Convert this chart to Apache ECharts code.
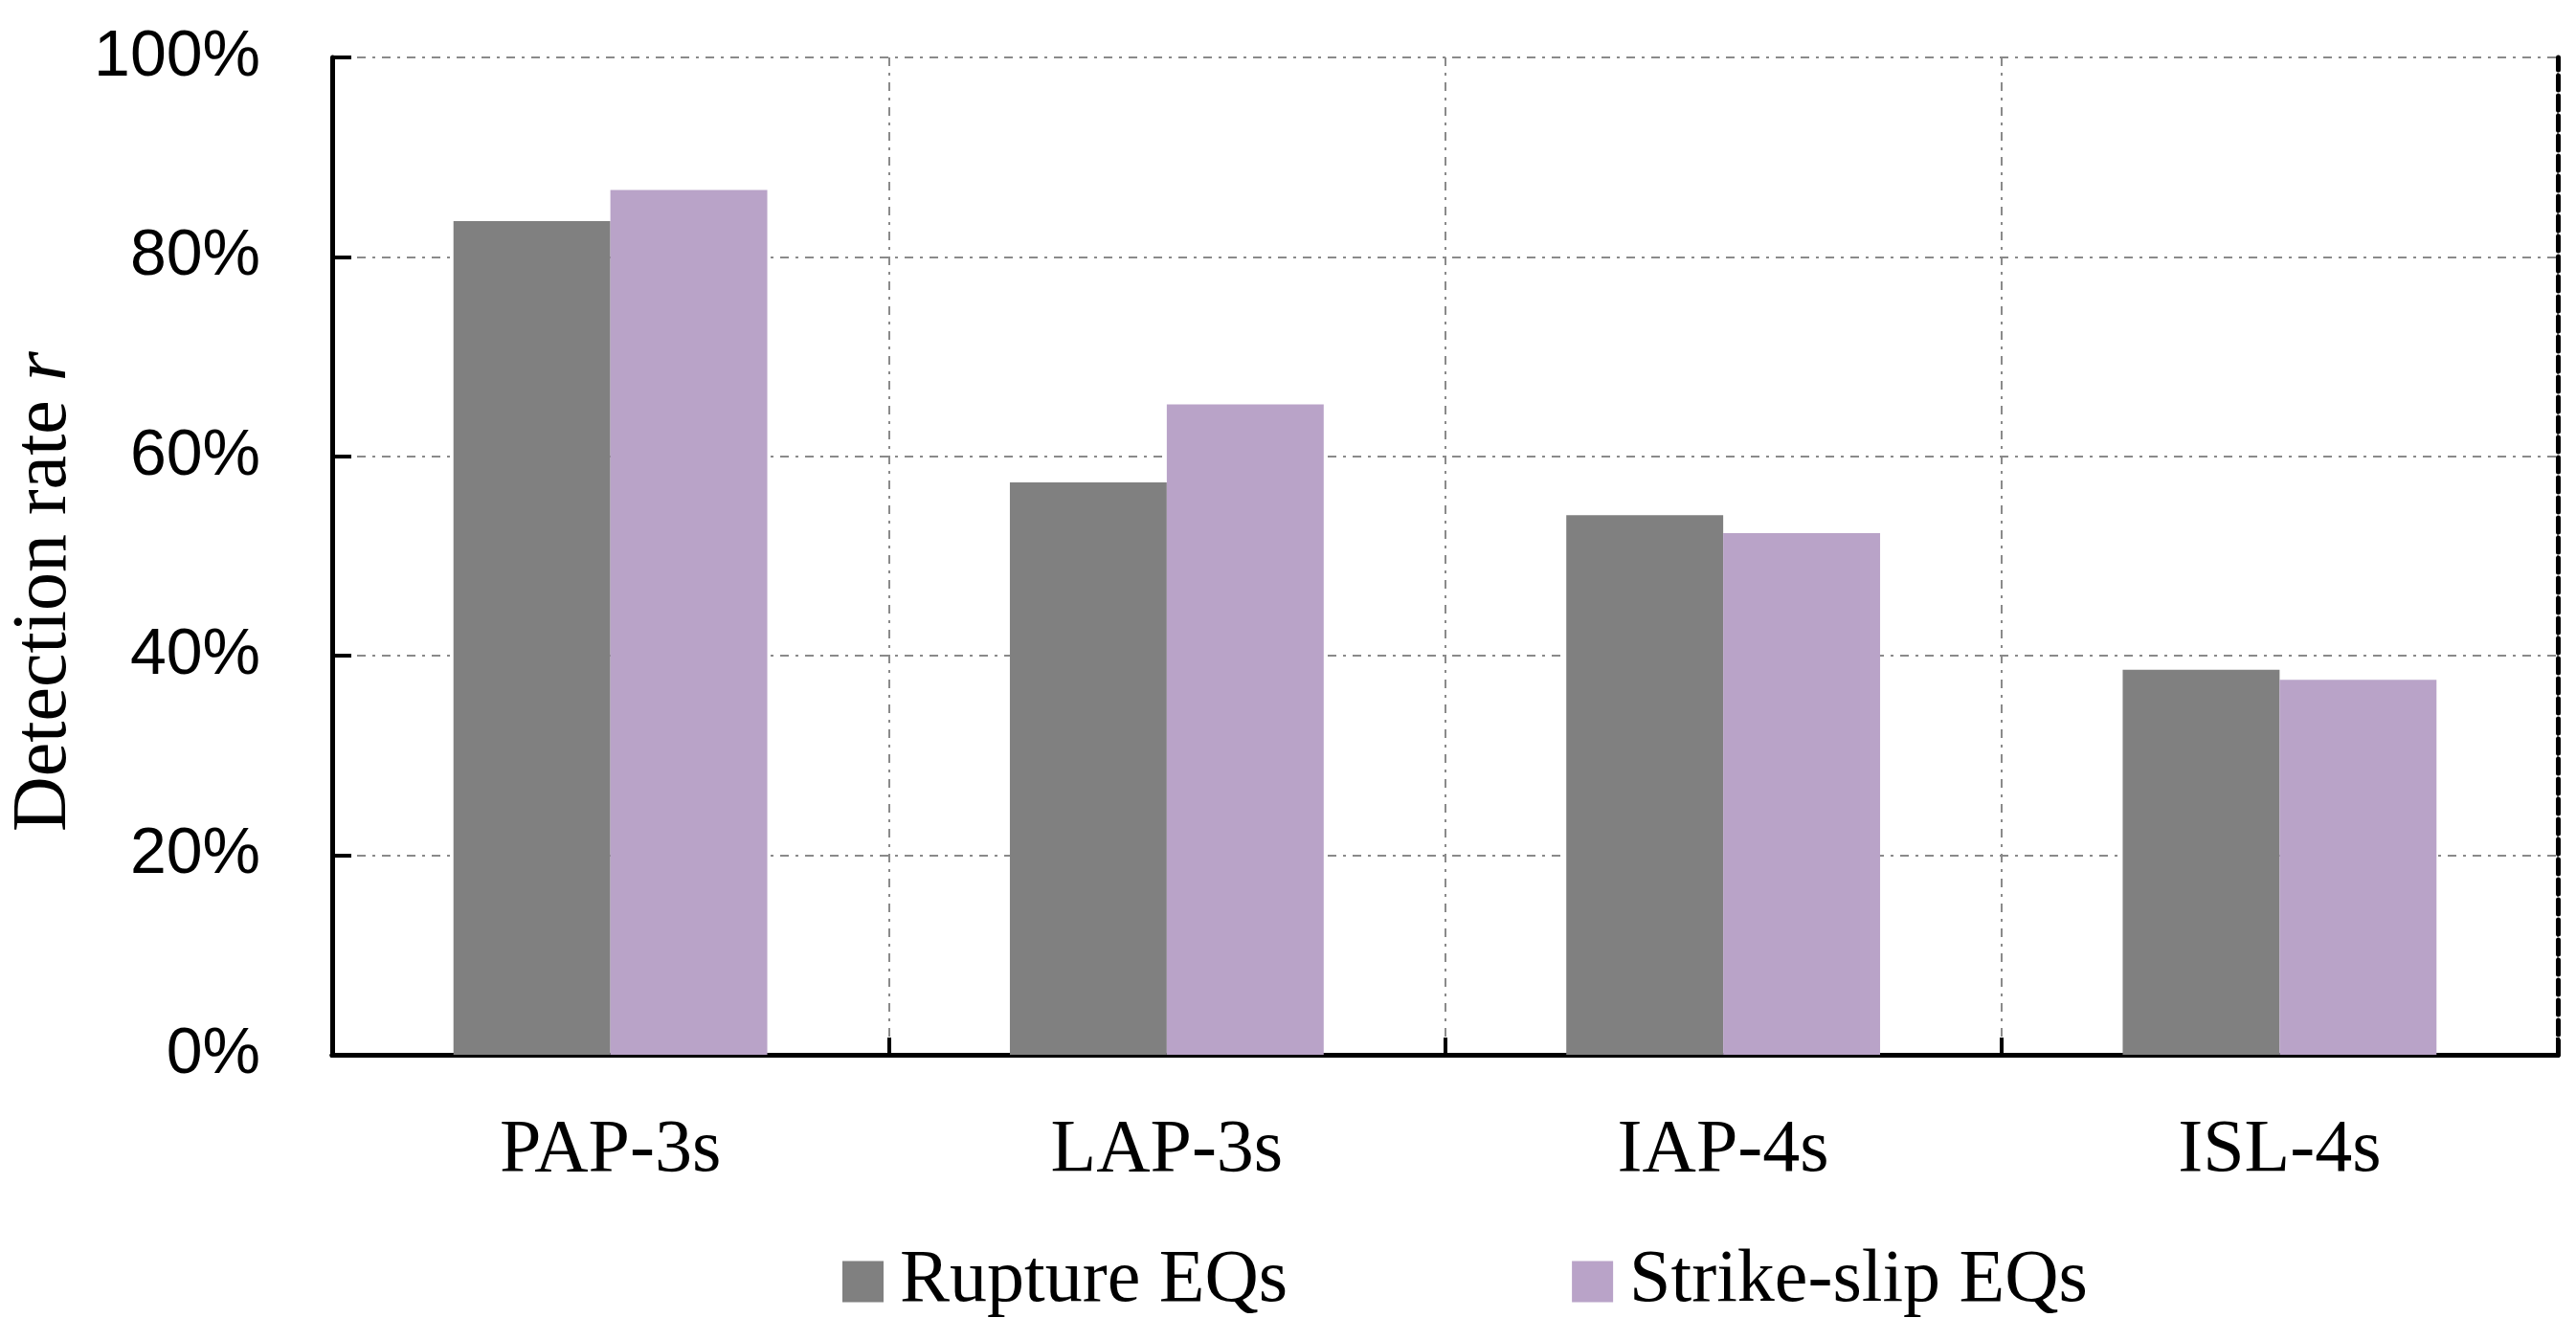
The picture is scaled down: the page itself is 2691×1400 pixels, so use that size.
<!DOCTYPE html>
<html>
<head>
<meta charset="utf-8">
<script src="https://cdn.jsdelivr.net/npm/echarts@6/dist/echarts.min.js"></script>
<style>
html,body{margin:0;padding:0;background:#fff;}
#c{width:2691px;height:1400px;}
</style>
</head>
<body>
<div id="c"></div>
<script>
const categories = ['PAP-3s', 'LAP-3s', 'IAP-4s', 'ISL-4s'];
const seriesNames = ['Rupture EQs', 'Strike-slip EQs'];
const ruptureValues = [83.6, 57.4, 54.1, 38.6];
const strikeSlipValues = [86.7, 65.2, 52.3, 37.6];
const yTicks = [0, 20, 40, 60, 80, 100];

const chart = echarts.init(document.getElementById('c'), null, {renderer: 'canvas'});
const gridLine = {show: true, lineStyle: {color: '#8a8a8a', width: 2, type: [9, 7, 3, 7]}};
const serif = 'Liberation Serif, Times New Roman, serif';

chart.setOption({
  backgroundColor: '#ffffff',
  animation: false,
  grid: {left: 347, right: 19, top: 60, bottom: 298, containLabel: false, outerBoundsMode: 'none'},
  legend: {
    data: seriesNames,
    left: 875,
    top: 1295,
    icon: 'rect',
    itemWidth: 43,
    itemHeight: 43,
    itemGap: 297,
    textStyle: {fontFamily: serif, fontSize: 78, color: '#000', padding: [0, 0, 0, 12]}
  },
  xAxis: [{
    type: 'category',
    data: categories,
    position: 'bottom',
    axisLine: {show: true, lineStyle: {color: '#000', width: 5}},
    axisTick: {show: true, inside: true, length: 18, alignWithLabel: false, lineStyle: {color: '#000', width: 4}},
    axisLabel: {fontFamily: serif, fontSize: 78, color: '#000', margin: 62},
    splitLine: gridLine
  }, {
    type: 'category',
    data: categories,
    position: 'top',
    axisLine: {show: true, lineStyle: {color: '#000', width: 5, type: [15, 6]}},
    axisTick: {show: false},
    axisLabel: {show: false},
    splitLine: {show: false}
  }],
  yAxis: [{
    type: 'value',
    min: 0,
    max: 100,
    interval: 20,
    position: 'left',
    axisLine: {show: true, lineStyle: {color: '#000', width: 5}},
    axisTick: {show: true, inside: true, length: 20, lineStyle: {color: '#000', width: 4}},
    axisLabel: {
      fontFamily: 'Liberation Sans, Arial, sans-serif', fontSize: 68, color: '#000', margin: 75,
      formatter: function (v) { return yTicks.indexOf(v) >= 0 ? v + '%' : ''; }
    },
    splitLine: gridLine,
    name: '{a|Detection rate }{b|r}',
    nameLocation: 'middle',
    nameRotate: 90,
    nameGap: 220,
    nameTextStyle: {
      padding: [0, 74, 0, 0],
      rich: {
        a: {fontFamily: serif, fontSize: 80, color: '#000'},
        b: {fontFamily: serif, fontSize: 80, fontStyle: 'italic', color: '#000'}
      }
    }
  }, {
    type: 'value',
    min: 0,
    max: 100,
    interval: 20,
    position: 'right',
    axisLine: {show: true, lineStyle: {color: '#000', width: 5, type: [15, 6]}},
    axisTick: {show: false},
    axisLabel: {show: false},
    splitLine: {show: false}
  }],
  series: [{
    name: seriesNames[0],
    type: 'bar',
    data: ruptureValues,
    barWidth: '28.2%',
    barGap: '0%',
    itemStyle: {color: '#808080'}
  }, {
    name: seriesNames[1],
    type: 'bar',
    data: strikeSlipValues,
    barWidth: '28.2%',
    barGap: '0%',
    itemStyle: {color: '#b9a3c8'}
  }]
});
</script>
</body>
</html>
